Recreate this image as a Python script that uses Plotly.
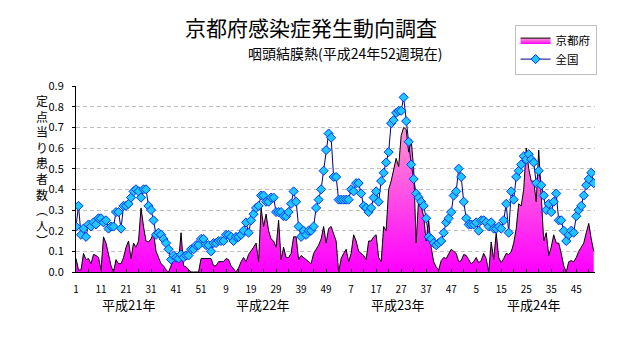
import plotly.graph_objects as go

# ---- data -------------------------------------------------------------
years = ["平成21年", "平成22年", "平成23年", "平成24年"]
weeks_per_year = [52, 52, 52, 52]

kyoto = [
    0.065, 0.01, 0.01, 0.09, 0.06, 0.065, 0.04, 0.085, 0.08, 0.07,
    0.01, 0.17, 0.14, 0.09, 0.03, 0.0, 0.06, 0.04, 0.04, 0.07,
    0.12, 0.15, 0.065, 0.14, 0.12, 0.15, 0.31, 0.22, 0.15, 0.145,
    0.16, 0.19, 0.10, 0.07, 0.04, 0.03, 0.01, 0.0, 0.03, 0.06,
    0.06, 0.05, 0.19, 0.03, 0.025, 0.01, 0.0, 0.0, 0.0, 0.0,
    0.065, 0.065, 0.065, 0.065, 0.065, 0.03, 0.03, 0.05, 0.05, 0.05,
    0.065, 0.06, 0.03, 0.015, 0.0, 0.02, 0.05, 0.07, 0.05, 0.085,
    0.10, 0.12, 0.14, 0.05, 0.31, 0.22, 0.28, 0.20, 0.16, 0.15,
    0.12, 0.25, 0.06, 0.12, 0.07, 0.07, 0.09, 0.17, 0.17, 0.06,
    0.08, 0.07, 0.06, 0.05, 0.04, 0.09, 0.11, 0.13, 0.16, 0.22,
    0.14, 0.21, 0.22, 0.18, 0.15, 0.0, 0.065, 0.09, 0.11, 0.05,
    0.09, 0.18, 0.15, 0.10, 0.09, 0.08, 0.06, 0.15, 0.15, 0.17,
    0.18, 0.07, 0.05, 0.22, 0.20, 0.40, 0.44, 0.50, 0.55, 0.51,
    0.66, 0.70, 0.69, 0.58, 0.64, 0.50, 0.14, 0.36, 0.31, 0.27,
    0.15, 0.25, 0.12, 0.05, 0.025, 0.01, 0.055, 0.07, 0.065, 0.09,
    0.11, 0.10, 0.09, 0.05, 0.055, 0.085, 0.08, 0.06, 0.04, 0.05,
    0.07, 0.045, 0.055, 0.09, 0.065, 0.0, 0.145, 0.06, 0.19, 0.07,
    0.045, 0.065, 0.09, 0.085, 0.097, 0.14, 0.21, 0.33, 0.32, 0.40,
    0.60, 0.50, 0.44, 0.44, 0.34, 0.59, 0.35, 0.15, 0.19, 0.08,
    0.12, 0.18, 0.14, 0.14, 0.09, 0.03, 0.0, 0.05, 0.055, 0.05,
    0.07, 0.10, 0.12, 0.14, 0.19, 0.235, 0.16, 0.10,
]

national = [
    0.22, 0.32, 0.18, 0.21, 0.17, 0.23, 0.22, 0.24, 0.23, 0.26,
    0.26, 0.24, 0.25, 0.21, 0.22, 0.22, 0.29, 0.29, 0.21, 0.32,
    0.32, 0.33, 0.36, 0.39, 0.40, 0.39, 0.36, 0.40, 0.40, 0.32,
    0.30, 0.25, 0.18, 0.19, 0.18, 0.16, 0.14, 0.11, 0.06, 0.08,
    0.07, 0.065, 0.085, 0.07, 0.08, 0.08, 0.11, 0.11, 0.13, 0.13,
    0.16, 0.16, 0.13, 0.13, 0.10, 0.14, 0.14, 0.15, 0.15, 0.15,
    0.18, 0.18, 0.17, 0.15, 0.17, 0.17, 0.18, 0.20, 0.24, 0.19,
    0.25, 0.28, 0.31, 0.32, 0.37, 0.37, 0.34, 0.34, 0.36, 0.36,
    0.29, 0.29, 0.29, 0.27, 0.27, 0.29, 0.33, 0.39, 0.34, 0.22,
    0.17, 0.20, 0.18, 0.20, 0.20, 0.22, 0.31, 0.35, 0.40, 0.49,
    0.59, 0.67, 0.65, 0.46, 0.46, 0.35, 0.35, 0.35, 0.35, 0.35,
    0.40, 0.39, 0.43, 0.43, 0.38, 0.32, 0.31, 0.29, 0.31, 0.36,
    0.39, 0.34, 0.44, 0.48, 0.53, 0.58, 0.72, 0.735, 0.77, 0.78,
    0.78, 0.845, 0.73, 0.63, 0.52, 0.45, 0.38, 0.36, 0.34, 0.32,
    0.26, 0.17, 0.16, 0.14, 0.13, 0.14, 0.15, 0.19, 0.24, 0.26,
    0.29, 0.37, 0.39, 0.50, 0.46, 0.34, 0.26, 0.23, 0.23, 0.23,
    0.24, 0.20, 0.25, 0.25, 0.24, 0.22, 0.24, 0.21, 0.21, 0.22,
    0.21, 0.25, 0.33, 0.19, 0.39, 0.35, 0.46, 0.49, 0.52, 0.56,
    0.545, 0.57, 0.545, 0.53, 0.43, 0.49, 0.42, 0.37, 0.30, 0.33,
    0.29, 0.34, 0.38, 0.25, 0.25, 0.20, 0.15, 0.18, 0.20, 0.19,
    0.27, 0.30, 0.32, 0.37, 0.42, 0.45, 0.48, 0.43,
]

week_numbers = [w for n in weeks_per_year for w in range(1, n + 1)]
x = list(range(len(week_numbers)))
tick_idx = list(range(0, len(x), 10))
tick_text = [str(week_numbers[i]) for i in tick_idx]
year_centers = [21, 74.5, 128.5, 183]

FONT = "Noto Sans CJK JP"

fig = go.Figure()
fig.add_trace(go.Scatter(
    x=x, y=kyoto, name="京都府", mode="lines",
    line=dict(color="black", width=1),
    fill="tozeroy",
    fillgradient=dict(type="vertical", start=0, stop=0.72,
                      colorscale=[[0, "#ff00ff"], [1, "#ff99cc"]]),
))
fig.add_trace(go.Scatter(
    x=x, y=national, name="全国", mode="lines+markers",
    line=dict(color="#000080", width=1),
    marker=dict(symbol="diamond", size=7, color="#1ec8ff",
                line=dict(color="#0033ff", width=1)),
))

annotations = [
    dict(text="京都府感染症発生動向調査", x=0.453, y=1.317, xref="paper", yref="paper",
         xanchor="center", yanchor="middle", showarrow=False,
         font=dict(family=FONT, size=21, color="black")),
    dict(text="咽頭結膜熱(平成24年52週現在)", x=0.519, y=1.177, xref="paper", yref="paper",
         xanchor="center", yanchor="middle", showarrow=False,
         font=dict(family=FONT, size=14, color="black")),
    dict(text="<br>".join(list("定点当り患者数︵人︶")), x=-0.0655, y=0.548,
         xref="paper", yref="paper", xanchor="center", yanchor="middle",
         showarrow=False, font=dict(family=FONT, size=12, color="black")),
]
for yl, xc in zip(years, year_centers):
    annotations.append(dict(text=yl, x=xc, y=-0.175, xref="x", yref="paper",
                            xanchor="center", yanchor="middle", showarrow=False,
                            font=dict(family=FONT, size=13, color="black")))

fig.update_layout(
    width=632, height=348,
    margin=dict(l=76, r=37, t=86, b=76),
    paper_bgcolor="white", plot_bgcolor="white",
    font=dict(family=FONT, color="black"),
    showlegend=True,
    legend=dict(x=0.845, y=1.33, xanchor="left", yanchor="top",
                bordercolor="#c0c0c0", borderwidth=1, bgcolor="white",
                font=dict(family=FONT, size=11.5), itemwidth=30,
                tracegroupgap=0),
    annotations=annotations,
)
fig.update_xaxes(
    range=[0, 207.5], showgrid=False, zeroline=False,
    showline=True, linecolor="black", linewidth=1,
    tickmode="array", tickvals=tick_idx, ticktext=tick_text,
    ticks="inside", ticklen=3, tickcolor="black",
    tickfont=dict(family=FONT, size=10), ticklabelstandoff=8,
    minor=dict(tickmode="linear", tick0=0, dtick=5, ticks="inside",
               ticklen=3, tickcolor="black"),
)
fig.update_yaxes(
    range=[0, 0.9], dtick=0.1, tickformat=".1f",
    showgrid=True, gridcolor="#c0c0c0", griddash="4px,3px", gridwidth=1,
    zeroline=False, showline=True, linecolor="black", linewidth=1,
    ticks="outside", ticklen=3, tickcolor="black",
    tickfont=dict(family=FONT, size=11), ticklabelstandoff=6,
)

fig.write_html("out.html")
